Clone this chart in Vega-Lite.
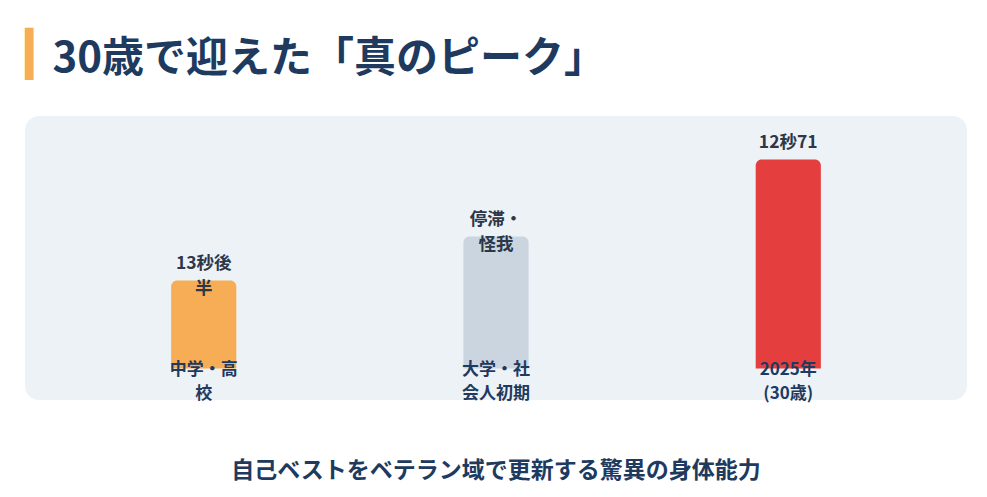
{
  "$schema": "https://vega.github.io/schema/vega-lite/v6.json",
  "width": 942,
  "height": 284,
  "autosize": "none",
  "padding": {"left": 25, "top": 116, "right": 20, "bottom": 97},
  "background": "#ffffff",
  "config": {
    "font": "Noto Sans CJK JP",
    "view": {"fill": "#edf2f7", "stroke": null, "cornerRadius": 14}
  },
  "title": {
    "text": "自己ベストをベテラン域で更新する驚異の身体能力",
    "orient": "bottom",
    "anchor": "middle",
    "offset": 58,
    "baseline": "top",
    "fontSize": 23,
    "fontWeight": "bold",
    "color": "#1e3a5f",
    "font": "Noto Sans CJK JP"
  },
  "data": {
    "values": [
      {"period": "中学・高校", "label": "中学・高\n校", "time": "13秒後\n半", "value": 40},
      {"period": "大学・社会人初期", "label": "大学・社\n会人初期", "time": "停滞・\n怪我", "value": 60},
      {"period": "2025年(30歳)", "label": "2025年\n(30歳)", "time": "12秒71", "value": 95}
    ]
  },
  "encoding": {
    "x": {
      "field": "period",
      "type": "nominal",
      "sort": null,
      "scale": {"paddingInner": 0.777, "paddingOuter": 0.5},
      "axis": {
        "orient": "top",
        "title": "30歳で迎えた「真のピーク」",
        "labels": false,
        "ticks": false,
        "domain": false,
        "grid": false,
        "titleAnchor": "start",
        "titleAlign": "left",
        "titleBaseline": "alphabetic",
        "titleAngle": 0,
        "titleX": 27,
        "titleY": -45,
        "titleFontSize": 42,
        "titleFontWeight": "bold",
        "titleColor": "#1e3a5f",
        "titleFont": "Noto Sans CJK JP"
      }
    }
  },
  "layer": [
    {
      "mark": {"type": "bar", "cornerRadiusTopLeft": 6, "cornerRadiusTopRight": 6},
      "encoding": {
        "y": {
          "field": "value",
          "type": "quantitative",
          "scale": {"domain": [-14.3, 114.8], "nice": false, "zero": false},
          "axis": {
            "title": "▎",
            "labels": false,
            "ticks": false,
            "domain": false,
            "grid": false,
            "titleAngle": 0,
            "titleX": 0,
            "titleY": -48,
            "titleAlign": "left",
            "titleBaseline": "alphabetic",
            "titleColor": "#f6ad55",
            "titleFont": "DejaVu Sans",
            "titleFontSize": 44,
            "titleFontWeight": "normal"
          }
        },
        "y2": {"datum": 0},
        "color": {
          "field": "period",
          "type": "nominal",
          "scale": {
            "domain": ["中学・高校", "大学・社会人初期", "2025年(30歳)"],
            "range": ["#f6ad55", "#cbd5e0", "#e53e3e"]
          },
          "legend": null
        }
      }
    },
    {
      "mark": {
        "type": "text",
        "dy": -17,
        "fontSize": 17.5,
        "fontWeight": "bold",
        "color": "#2d3748",
        "lineBreak": "\n",
        "lineHeight": 25
      },
      "encoding": {
        "y": {"field": "value", "type": "quantitative"},
        "text": {"field": "time"}
      }
    },
    {
      "mark": {
        "type": "text",
        "dy": 1,
        "fontSize": 17,
        "fontWeight": "bold",
        "color": "#1e3a5f",
        "lineBreak": "\n",
        "lineHeight": 24
      },
      "encoding": {
        "y": {"datum": 0, "type": "quantitative"},
        "text": {"field": "label"}
      }
    }
  ]
}
